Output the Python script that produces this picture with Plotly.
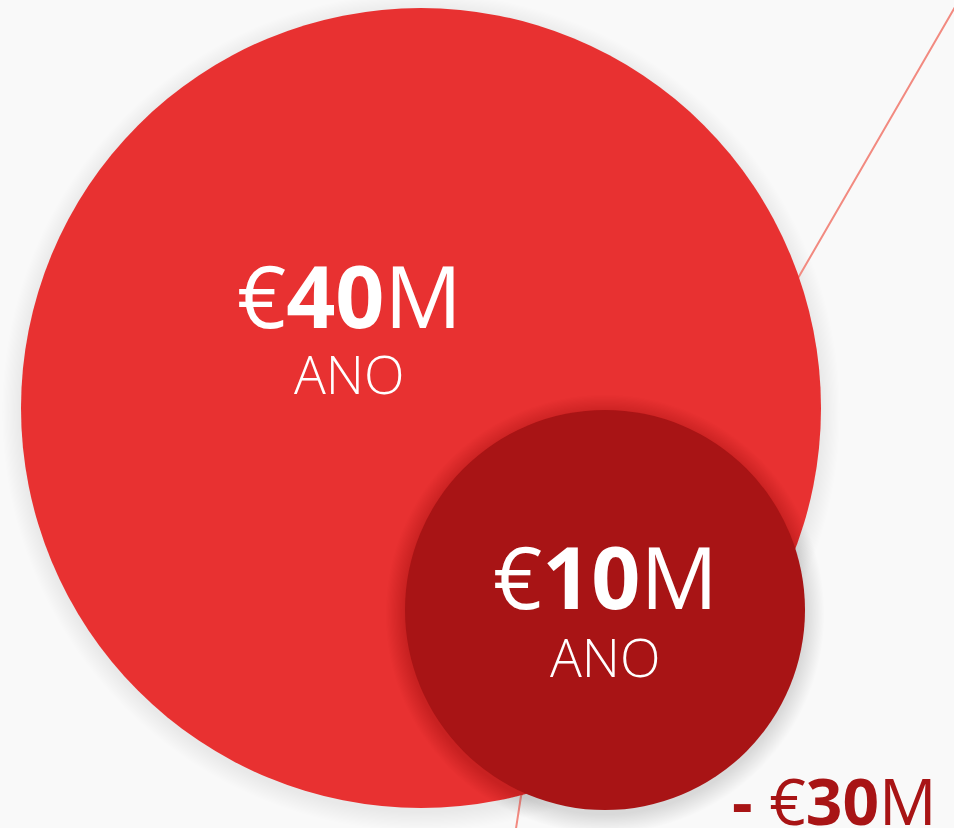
import math
import plotly.graph_objects as go

# ---- data ----
labels = ["€40M", "€10M"]
values = [40, 10]              # million € per year
value_parts = [("€", "40", "M"), ("€", "10", "M")]
sub_labels = ["ANO", "ANO"]
diff_value = -30
diff_label = ("- ", "€", "30", "M")

W, H = 954, 828
BG = "#F9F9F9"
RED = "#E83131"
DARK = "#A81415"
LINE = "#F28A80"

# layout (pixel space)
centers = [(421, 408), (605, 610)]
scale = 400 / math.sqrt(values[0])
radii = [scale * math.sqrt(v) for v in values]
colors = [RED, DARK]

fig = go.Figure()

# connector line (behind circles)
fig.add_trace(go.Scatter(
    x=[962, 600, 521, 515], y=[-5, 620, 796, 835],
    mode="lines", line=dict(color=LINE, width=2), hoverinfo="skip", showlegend=False))

shapes = []

def shadow(cx, cy, r, layer, alpha):
    out = []
    n = 16
    for i in range(n, 0, -1):
        rr = r + i * 1.2
        out.append(dict(type="circle", xref="x", yref="y", layer=layer,
                        x0=cx - rr, x1=cx + rr, y0=cy + 4 - rr, y1=cy + 4 + rr,
                        fillcolor=f"rgba(0,0,0,{alpha})", line=dict(width=0)))
    return out

for i, (c, r, col) in enumerate(zip(centers, radii, colors)):
    cx, cy = c
    shapes += shadow(cx, cy, r, "below" if i == 0 else "above", 0.005 if i == 0 else 0.007)
    shapes.append(dict(type="circle", xref="x", yref="y", layer="above",
                       x0=cx - r, x1=cx + r, y0=cy - r, y1=cy + r,
                       fillcolor=col, line=dict(width=0)))

annotations = []
label_pos = [(349, 294, 373), (605, 575, 656)]
for (p1, p2, p3), sub, (x, y1, y2) in zip(value_parts, sub_labels, label_pos):
    annotations.append(dict(x=x, y=y1, xref="x", yref="y", showarrow=False,
                            text=f"{p1}<b>{p2}</b>{p3}",
                            font=dict(family="Open Sans", size=86, color="white")))
    annotations.append(dict(x=x, y=y2, xref="x", yref="y", showarrow=False,
                            text=sub,
                            font=dict(family="Open Sans", size=53, color="white", weight=300)))

d1, d2, d3, d4 = diff_label
annotations.append(dict(x=939, y=800, xref="x", yref="y", showarrow=False,
                        xanchor="right", yanchor="middle",
                        text=f"<b>{d1}</b>{d2}<b>{d3}</b>{d4}",
                        font=dict(family="Open Sans", size=64, color=DARK)))

fig.update_layout(
    width=W, height=H, margin=dict(l=0, r=0, t=0, b=0),
    paper_bgcolor=BG, plot_bgcolor=BG,
    xaxis=dict(range=[0, W], visible=False, fixedrange=True),
    yaxis=dict(range=[H, 0], visible=False, fixedrange=True),
    shapes=shapes, annotations=annotations, showlegend=False,
)

fig.write_html("out.html", config={"displayModeBar": False},
               post_script="document.body.style.margin='0px';document.body.style.overflow='hidden';document.body.style.background='#F9F9F9';")
